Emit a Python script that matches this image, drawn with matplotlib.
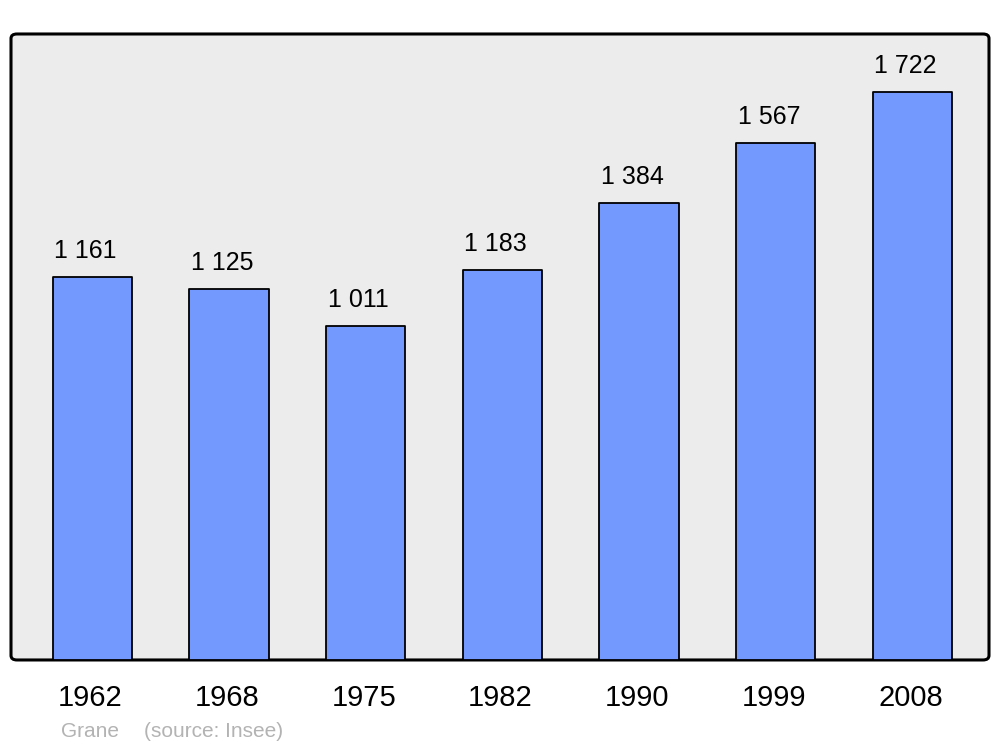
import matplotlib
matplotlib.use('Agg')
import matplotlib.pyplot as plt
import matplotlib.patches as mpatches

plt.rcParams['font.family'] = ['Liberation Sans', 'DejaVu Sans']

years = ['1962', '1968', '1975', '1982', '1990', '1999', '2008']
population = [1161, 1125, 1011, 1183, 1384, 1567, 1722]
value_labels = ['1 161', '1 125', '1 011', '1 183', '1 384', '1 567', '1 722']
commune = 'Grane'
source = '(source: Insee)'

bar_color = '#7399ff'
bg_color = '#ececec'

fig = plt.figure(figsize=(10, 7.47), dpi=100)
ax_rect = [0.011, 0.1165, 0.978, 0.838]
ax = fig.add_axes(ax_rect)
ax.set_zorder(2)

# rounded frame behind the axes
frame = mpatches.FancyBboxPatch((ax_rect[0], ax_rect[1]), ax_rect[2], ax_rect[3],
                                boxstyle='round,pad=0,rounding_size=0.006',
                                transform=fig.transFigure, facecolor=bg_color,
                                edgecolor='black', linewidth=2.2, zorder=0)
fig.patches.append(frame)
ax.set_facecolor('none')
for s in ax.spines.values():
    s.set_visible(False)

x = list(range(len(years)))
bars = ax.bar(x, population, width=0.58, color=bar_color, edgecolor='black',
              linewidth=1.3, zorder=2)
for b in bars:
    b.set_joinstyle('round')

for xi, v, lab in zip(x, population, value_labels):
    ax.annotate(lab, (xi, v), xytext=(-7, 26), textcoords='offset pixels',
                ha='center', va='center', fontsize=18)

ax.set_xlim(-0.595, 6.56)
ax.set_ylim(0, 1897)
ax.set_yticks([])
ax.set_xticks([xi - 0.015 for xi in x])
ax.set_xticklabels(years, fontsize=21)
ax.tick_params(axis='x', length=0, pad=17)

fig.text(0.061, 0.021, commune, color='#b3b3b3', fontsize=15, ha='left', va='center')
fig.text(0.144, 0.021, source, color='#b3b3b3', fontsize=15, ha='left', va='center')

fig.savefig('out.png', dpi=100)
